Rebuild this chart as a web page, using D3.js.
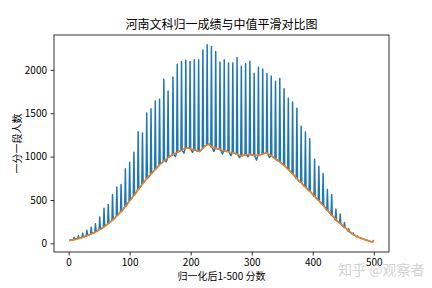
<!DOCTYPE html>
<html>
<head>
<meta charset="utf-8">
<script src="https://cdn.jsdelivr.net/npm/d3@7"></script>
<style>
  body { margin: 0; background: #fff; }
  svg text { font-family: "Noto Sans CJK SC", "DejaVu Sans", sans-serif; }
</style>
</head>
<body>
<div id="chart"></div>
<script>
// tick labels
var xTicks = [0, 100, 200, 300, 400, 500];
var yTicks = [0, 500, 1000, 1500, 2000];

// raw counts after normalising to 1-500 (vertices of the blue line)
var blueScore = [
  1, 4,
  8, 9, 10, 13,   15, 16, 17, 20,   22, 23, 24, 27,   29, 30, 31, 34,
  36, 37, 38, 41,   43, 44, 45, 48,   50, 51, 52, 55,   57, 58, 59, 62,
  64, 65, 66, 69,   71, 72, 73, 76,   78, 79, 80, 83,   85, 86, 87, 90,
  92, 93, 94, 97,   99, 100, 101, 104,   106, 107, 108, 111,   113, 114, 115, 118,
  120, 121, 122, 125,   127, 128, 129, 132,   134, 135, 136, 139,   141, 142, 143, 146,
  148, 149, 150, 153,   155, 156, 157, 160,   162, 163, 164, 167,   170, 171, 172, 175,
  177, 178, 179, 182,   184, 185, 186, 189,   191, 192, 193, 196,   198, 199, 200, 203,
  205, 206, 207, 210,   212, 213, 214, 217,   219, 220, 221, 224,   226, 227, 228, 231,
  233, 234, 235, 238,   240, 241, 242, 245,   247, 248, 249, 252,   254, 255, 256, 259,
  261, 262, 263, 266,   268, 269, 270, 273,   275, 276, 277, 280,   282, 283, 284, 287,
  289, 290, 291, 294,   296, 297, 298, 301,   303, 304, 305, 308,   310, 311, 312, 315,
  317, 318, 319, 322,   324, 325, 326, 329,   331, 332, 333, 336,   338, 339, 340, 343,
  345, 346, 347, 350,   352, 353, 354, 357,   359, 360, 361, 364,   366, 367, 368, 371,
  373, 374, 375, 378,   380, 381, 382, 385,   387, 388, 389, 392,   394, 395, 396, 399,
  402, 403, 404, 407,   409, 410, 411, 414,   416, 417, 418, 421,   423, 424, 425, 428,
  430, 431, 432, 435,   437, 438, 439, 442,   444, 445, 446, 449,   451, 452, 453, 456,
  458, 459, 460, 463,   465, 466, 467, 470,   472, 473, 474, 477,   479, 480, 481, 485,
  490, 495, 498, 500
];
var blueCount = [
  35, 40,
  42, 69, 44, 50,   54, 90, 57, 64,   70, 118, 74, 82,   88, 150, 92, 100,
  106, 185, 112, 122,   128, 225, 136, 148,   155, 305, 162, 178,   188, 405, 196, 212,
  222, 447, 230, 250,   262, 563, 272, 296,   312, 650, 322, 348,   360, 678, 368, 398,
  420, 860, 430, 465,   482, 935, 495, 528,   545, 1050, 558, 590,   615, 1287, 628, 655,
  678, 1272, 690, 720,   740, 1503, 748, 770,   792, 1553, 805, 830,   845, 1642, 858, 880,
  900, 1661, 912, 930,   942, 1893, 955, 940,   985, 1757, 995, 1010,   1018, 1919, 1030, 1000,
  1045, 2066, 1052, 1062,   1068, 2096, 1075, 1040,   1095, 2112, 1100, 1105,   1095, 2096, 1088, 1050,
  1080, 2116, 1076, 1068,   1062, 2116, 1058, 1075,   1090, 2231, 1102, 1125,   1132, 2289, 1140, 1142,
  1115, 2269, 1108, 1060,   1098, 2212, 1094, 1088,   1082, 2092, 1078, 1030,   1070, 2116, 1066, 1060,
  1058, 2080, 1056, 1010,   1048, 2080, 1044, 1035,   1030, 2142, 1026, 990,   1014, 2042, 1010, 1016,
  1020, 2070, 1024, 1000,   1027, 2100, 1024, 1018,   1014, 1962, 1012, 960,   1017, 2030, 1020, 1024,
  1028, 2012, 1032, 1038,   1042, 1960, 1040, 990,   1010, 1931, 1002, 990,   975, 1870, 968, 952,
  945, 1902, 938, 915,   905, 1784, 898, 870,   858, 1673, 850, 822,   808, 1630, 800, 770,
  748, 1557, 740, 712,   705, 1350, 695, 668,   655, 1283, 645, 620,   608, 1206, 598, 572,
  545, 970, 536, 510,   497, 890, 488, 460,   445, 806, 436, 405,   380, 621, 372, 350,
  328, 563, 320, 300,   270, 397, 262, 245,   232, 339, 226, 202,   190, 240, 184, 162,
  140, 170, 135, 118,   104, 120, 100, 88,   76, 85, 72, 64,   57, 60, 55, 44,
  32, 20, 14, 38
];

// median smoothed counts (orange line)
var smoothScore = [
  1, 5, 10, 15, 20, 25, 30, 35, 40, 45, 50, 55, 60, 65, 70, 75, 80, 85, 90, 95,
  100, 105, 110, 115, 120, 125, 130, 135, 140, 145, 150, 155, 160, 165, 170, 175, 180, 185, 190, 195,
  200, 205, 210, 215, 220, 225, 230, 235, 240, 245, 250, 255, 260, 265, 270, 275, 280, 285, 290, 295,
  300, 305, 310, 315, 320, 325, 330, 335, 340, 345, 350, 355, 360, 365, 370, 375, 380, 385, 390, 395,
  400, 405, 410, 415, 420, 425, 430, 435, 440, 445, 450, 455, 460, 465, 470, 475, 480, 485, 490, 495,
  498, 500
];
var smoothCount = [
  30, 36, 44, 52, 62, 75, 88, 102, 118, 135, 155, 176, 200, 228, 258, 290, 325, 360, 400, 445,
  490, 535, 578, 630, 675, 722, 765, 800, 840, 878, 910, 940, 975, 1000, 1022, 1040, 1060, 1072, 1095, 1102,
  1090, 1080, 1068, 1060, 1098, 1130, 1145, 1112, 1100, 1090, 1078, 1068, 1060, 1052, 1045, 1030, 1017, 1010, 1022, 1028,
  1020, 1012, 1018, 1025, 1035, 1044, 1020, 994, 970, 945, 915, 885, 852, 815, 780, 740, 705, 668, 632, 601,
  565, 528, 490, 452, 412, 372, 335, 298, 262, 228, 195, 168, 142, 110, 90, 70, 56, 44, 32, 20,
  14, 38
];

// set the dimensions and margins of the graph
var margin = {top: 35, right: 43, bottom: 36, left: 54},
    width = 432 - margin.left - margin.right,
    height = 288 - margin.top - margin.bottom;

var svg = d3.select("#chart")
  .append("svg")
    .attr("width", width + margin.left + margin.right)
    .attr("height", height + margin.top + margin.bottom);

var g = svg.append("g")
    .attr("transform", "translate(" + margin.left + "," + margin.top + ")");

// matplotlib style 5% padding
var xMin = d3.min(blueScore), xMax = d3.max(blueScore);
var xPad = (xMax - xMin) * 0.05;
var x = d3.scaleLinear()
  .domain([xMin - xPad, xMax + xPad])
  .range([0, width]);

var yMin = d3.min(blueCount.concat(smoothCount)), yMax = d3.max(blueCount.concat(smoothCount));
var yPad = (yMax - yMin) * 0.05;
var y = d3.scaleLinear()
  .domain([yMin - yPad, yMax + yPad])
  .range([height, 0]);

// blue raw line
var blueData = blueScore.map(function(s, i) { return [s, blueCount[i]]; });
g.append("path")
  .datum(blueData)
  .attr("fill", "none")
  .attr("stroke", "#1f77b4")
  .attr("stroke-width", 1.5)
  .attr("stroke-linejoin", "round")
  .attr("d", d3.line()
    .x(function(d) { return x(d[0]) })
    .y(function(d) { return y(d[1]) }));

// orange median line
var smoothData = smoothScore.map(function(s, i) { return [s, smoothCount[i]]; });
g.append("path")
  .datum(smoothData)
  .attr("fill", "none")
  .attr("stroke", "#ff7f0e")
  .attr("stroke-width", 1.5)
  .attr("stroke-linejoin", "round")
  .attr("d", d3.line()
    .x(function(d) { return x(d[0]) })
    .y(function(d) { return y(d[1]) }));

// axes
var xAxis = g.append("g")
  .attr("transform", "translate(0," + height + ")")
  .call(d3.axisBottom(x).tickValues(xTicks).tickFormat(d3.format("d"))
    .tickSize(3.5).tickPadding(3.5).tickSizeOuter(0));
var yAxis = g.append("g")
  .call(d3.axisLeft(y).tickValues(yTicks).tickFormat(d3.format("d"))
    .tickSize(3.5).tickPadding(3.5).tickSizeOuter(0));

[xAxis, yAxis].forEach(function(a) {
  a.select(".domain").remove();
  a.selectAll("line").attr("stroke", "#000").attr("stroke-width", 0.8);
  a.selectAll("text").attr("fill", "#000").style("font-size", "10px")
    .style("font-family", "'Noto Sans CJK SC', 'DejaVu Sans', sans-serif");
});

// frame
g.append("rect")
  .attr("x", 0).attr("y", 0)
  .attr("width", width).attr("height", height)
  .attr("fill", "none")
  .attr("stroke", "#000")
  .attr("stroke-width", 0.8);

// title
svg.append("text")
  .attr("x", margin.left + width / 2)
  .attr("y", 29)
  .attr("text-anchor", "middle")
  .style("font-size", "12px")
  .text("河南文科归一成绩与中值平滑对比图");

// axis labels
svg.append("text")
  .attr("x", margin.left + width / 2)
  .attr("y", 280)
  .attr("text-anchor", "middle")
  .style("font-size", "10px")
  .text("归一化后1-500  分数");

svg.append("text")
  .attr("transform", "translate(18," + (margin.top + height / 2) + ") rotate(-90)")
  .attr("text-anchor", "middle")
  .attr("dominant-baseline", "middle")
  .style("font-size", "10px")
  .text("一分一段人数");

// watermark
svg.append("text")
  .attr("x", 338)
  .attr("y", 275)
  .style("font-size", "14px")
  .attr("fill", "#d2d2d2")
  .text("知乎 @观察者");
</script>
</body>
</html>
